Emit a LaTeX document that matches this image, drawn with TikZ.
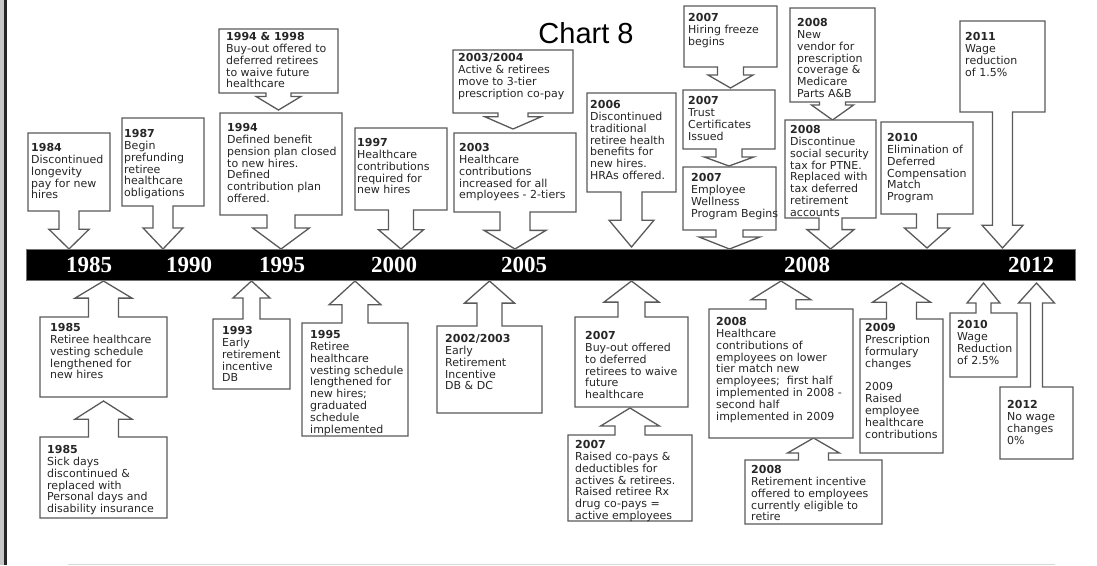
\documentclass[tikz,border=0pt]{standalone}
\usepackage{fontspec}
\setmainfont{DejaVu Sans}
\newfontfamily\yearfont{Liberation Serif}
\newfontfamily\chartfont{Liberation Sans}
\usetikzlibrary{shapes.arrows}
\definecolor{boxline}{HTML}{5A5A5A}
\definecolor{notetext}{HTML}{262626}
\tikzset{
  cbox/.style={arrow box, draw=boxline, line width=1.3pt, fill=white, inner sep=0pt, outer sep=0pt,
    arrow box north arrow=none, arrow box south arrow=none,
    arrow box east arrow=none, arrow box west arrow=none},
  dncall/.style={cbox, arrow box south arrow=#1},
  upcall/.style={cbox, arrow box north arrow=#1},
  arr/.style n args={3}{arrow box shaft width=#1, arrow box head extend=#2, arrow box tip angle=#3},
  note/.style={anchor=north west, inner sep=0pt, align=left, text=notetext,
    font=\fontsize{11}{11.9}\selectfont},
  year/.style={text=white, inner sep=0pt, font=\yearfont\bfseries\fontsize{23}{23}\selectfont}
}
\begin{document}
\begin{tikzpicture}[x=1pt,y=-1pt]
\useasboundingbox[fill=white] (0,0) rectangle (1097,565);
% page edges
\fill[black!22] (0,0) rectangle (4,565);
\fill[black!85] (4,0) rectangle (7,565);
\draw[black!15, line width=0.8pt] (68,564) -- (1055,564);
% title
\node[font=\chartfont\fontsize{29}{29}\selectfont] (title) at (586,33) {Chart 8};

% callouts above the line
\node[dncall=38pt, arr={20pt}{10pt}{91}, minimum width=82pt, minimum height=78pt] (c1984) at (69,172) {};
\node[note] (t1984) at (31,143) {\textbf{1984}\\Discontinued\\longevity\\pay for new\\hires};
\node[dncall=43pt, arr={20pt}{10pt}{87}, minimum width=82pt, minimum height=88pt] (c1987) at (163,162) {};
\node[note] (t1987) at (124,129) {\textbf{1987}\\Begin\\prefunding\\retiree\\healthcare\\obligations};
\node[dncall=17pt, arr={25pt}{10pt}{118}, minimum width=119pt, minimum height=64pt] (c9498) at (278.5,61) {};
\node[note] (t9498) at (226,32) {\textbf{1994 \& 1998}\\Buy-out offered to\\deferred retirees\\to waive future\\healthcare};
\node[dncall=34pt, arr={28pt}{14.5pt}{107}, minimum width=122pt, minimum height=102pt] (c1994) at (281,164) {};
\node[note] (t1994) at (227,123) {\textbf{1994}\\Defined benefit\\pension plan closed\\to new hires.\\Defined\\contribution plan\\offered.};
\node[dncall=39pt, arr={25pt}{10pt}{99}, minimum width=92pt, minimum height=82pt] (c1997) at (401,169) {};
\node[note] (t1997) at (357,138) {\textbf{1997}\\Healthcare\\contributions\\required for\\new hires};
\node[dncall=16pt, arr={30pt}{13pt}{133}, minimum width=120pt, minimum height=63pt] (c0304) at (513,81.5) {};
\node[note] (t0304) at (458,53) {\textbf{2003/2004}\\Active \& retirees\\move to 3-tier\\prescription co-pay};
\node[dncall=37pt, arr={30pt}{16pt}{118}, minimum width=122pt, minimum height=79pt] (c2003) at (515,172.5) {};
\node[note] (t2003) at (459,143) {\textbf{2003}\\Healthcare\\contributions\\increased for all\\employees - 2-tiers};
\node[dncall=55pt, arr={21pt}{12pt}{80}, minimum width=89pt, minimum height=99pt] (c2006) at (631.5,142.5) {};
\node[note] (t2006) at (590,100) {\textbf{2006}\\Discontinued\\traditional\\retiree health\\benefits for\\new hires.\\HRAs offered.};
\node[dncall=21pt, arr={26pt}{9.5pt}{120}, minimum width=93pt, minimum height=61pt] (c07a) at (730.5,36.5) {};
\node[note] (t07a) at (688,13) {\textbf{2007}\\Hiring freeze\\begins};
\node[dncall=17pt, arr={26pt}{12pt}{140}, minimum width=92pt, minimum height=59pt] (c07b) at (729,119.5) {};
\node[note] (t07b) at (688,96) {\textbf{2007}\\Trust\\Certificates\\Issued};
\node[dncall=19pt, arr={27pt}{17pt}{137}, minimum width=93pt, minimum height=63pt] (c07c) at (729.5,198.5) {};
\node[note] (t07c) at (691,173) {\textbf{2007}\\Employee\\Wellness\\Program Begins};
\node[dncall=18pt, arr={26pt}{8pt}{109}, minimum width=85pt, minimum height=94pt] (c08a) at (832.5,55) {};
\node[note] (t08a) at (797,18) {\textbf{2008}\\New\\vendor for\\prescription\\coverage \&\\Medicare\\Parts A\&B};
\node[dncall=31pt, arr={23pt}{12pt}{101}, minimum width=91pt, minimum height=98pt] (c08b) at (830.5,169) {};
\node[note] (t08b) at (790,125) {\textbf{2008}\\Discontinue\\social security\\tax for PTNE.\\Replaced with\\tax deferred\\retirement\\accounts};
\node[dncall=34pt, arr={21pt}{12pt}{97}, minimum width=92pt, minimum height=92pt] (c2010a) at (927,168) {};
\node[note] (t2010a) at (887,133) {\textbf{2010}\\Elimination of\\Deferred\\Compensation\\Match\\Program};
\node[dncall=136pt, arr={20pt}{10.5pt}{84}, minimum width=85pt, minimum height=91pt] (c2011) at (1002.5,66.5) {};
\node[note] (t2011) at (965,32) {\textbf{2011}\\Wage\\reduction\\of 1.5\%};

% callouts below the line
\node[upcall=36pt, arr={30pt}{13.5pt}{115}, minimum width=127pt, minimum height=81pt] (c85b) at (103.5,477.5) {};
\node[note] (t85b) at (47,445) {\textbf{1985}\\Sick days\\discontinued \&\\replaced with\\Personal days and\\disability insurance};
\node[upcall=36pt, arr={30pt}{13.5pt}{118}, minimum width=127pt, minimum height=80pt] (c85a) at (103.5,357) {};
\node[note] (t85a) at (50,323) {\textbf{1985}\\Retiree healthcare\\vesting schedule\\lengthened for\\new hires};
\node[upcall=38pt, arr={17pt}{10pt}{95}, minimum width=77pt, minimum height=70pt] (c1993) at (251.5,354) {};
\node[note] (t1993) at (222,326) {\textbf{1993}\\Early\\retirement\\incentive\\DB};
\node[upcall=42pt, arr={26pt}{13pt}{95}, minimum width=106pt, minimum height=113pt] (c1995) at (355,379.5) {};
\node[note] (t1995) at (310,330) {\textbf{1995}\\Retiree\\healthcare\\vesting schedule\\lengthened for\\new hires;\\graduated\\schedule\\implemented};
\node[upcall=45pt, arr={25pt}{12.5pt}{97}, minimum width=105pt, minimum height=87pt] (c0203) at (489.5,369.5) {};
\node[note] (t0203) at (445,334) {\textbf{2002/2003}\\Early\\Retirement\\Incentive\\DB \& DC};
\node[upcall=27pt, arr={30pt}{14.5pt}{117}, minimum width=124pt, minimum height=86pt] (c07e) at (630,478) {};
\node[note] (t07e) at (575,440) {\textbf{2007}\\Raised co-pays \&\\deductibles for\\actives \& retirees.\\Raised retiree Rx\\drug co-pays =\\active employees};
\node[upcall=36pt, arr={27pt}{14pt}{105}, minimum width=113pt, minimum height=90pt] (c07d) at (631.5,362) {};
\node[note] (t07d) at (585,331) {\textbf{2007}\\Buy-out offered\\to deferred\\retirees to waive\\future\\healthcare};
\node[upcall=22pt, arr={30pt}{11pt}{120}, minimum width=137pt, minimum height=64pt] (c08d) at (813.5,492) {};
\node[note] (t08d) at (751,465) {\textbf{2008}\\Retirement incentive\\offered to employees\\currently eligible to\\retire};
\node[upcall=28pt, arr={30pt}{15pt}{116}, minimum width=144pt, minimum height=129pt] (c08c) at (781,373.5) {};
\node[note] (t08c) at (716,317) {\textbf{2008}\\Healthcare\\contributions of\\employees on lower\\tier match new\\employees;~ first half\\implemented in 2008 -\\second half\\implemented in 2009};
\node[upcall=36pt, arr={30pt}{14pt}{113}, minimum width=83pt, minimum height=134pt] (c2009) at (901.5,386) {};
\node[note] (t2009) at (865,323) {\textbf{2009}\\Prescription\\formulary\\changes\\[11.9pt]2009\\Raised\\employee\\healthcare\\contributions};
\node[upcall=30pt, arr={15pt}{9pt}{79}, minimum width=67pt, minimum height=64pt] (c2010b) at (983.5,345) {};
\node[note] (t2010b) at (957,320) {\textbf{2010}\\Wage\\Reduction\\of 2.5\%};
\node[upcall=104pt, arr={12pt}{12pt}{84}, minimum width=73pt, minimum height=72pt] (c2012) at (1036.5,423) {};
\node[note] (t2012) at (1007,400) {\textbf{2012}\\No wage\\changes\\0\%};

% the time line
\draw[fill=black, draw=black!55, line width=0.8pt] (26,249) rectangle (1075,280);
\foreach \yr/\xx in {1985/89, 1990/189, 1995/282, 2000/394, 2005/524, 2008/807, 2012/1031}
  \node[year] (y\yr) at (\xx,265) {\yr};
\end{tikzpicture}
\end{document}
